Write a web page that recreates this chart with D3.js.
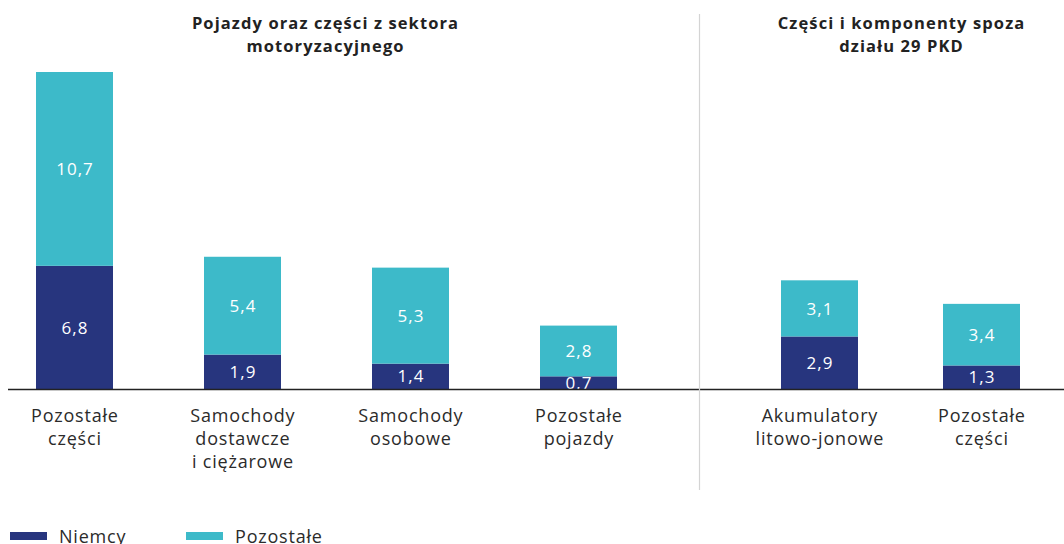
<!DOCTYPE html>
<html><head><meta charset="utf-8">
<script src="https://cdn.jsdelivr.net/npm/d3@7"></script>
<style>body{margin:0;background:#fff;overflow:hidden}svg{display:block}</style>
</head><body><svg id="c" width="1064" height="544"></svg>
<script>
const group1Cats = ["Pozostałe\nczęści", "Samochody\ndostawcze\ni ciężarowe", "Samochody\nosobowe", "Pozostałe\npojazdy"];
const group1Niemcy = [6.8, 1.9, 1.4, 0.7];
const group1Pozostale = [10.7, 5.4, 5.3, 2.8];
const group2Cats = ["Akumulatory\nlitowo-jonowe", "Pozostałe\nczęści "];
const group2Niemcy = [2.9, 1.3];
const group2Pozostale = [3.1, 3.4];
const groupTitles = ["Pojazdy oraz części z sektora\nmotoryzacyjnego", "Części i komponenty spoza\ndziału 29 PKD"];
const seriesNames = ["Niemcy", "Pozostałe"];
const colors = ["#27357e", "#3dbac9"];

const svg = d3.select("#c");
const font = "'Open Sans', sans-serif";
const y = d3.scaleLinear().domain([0, 17.5]).range([389, 72]);
const x1 = d3.scalePoint().domain(group1Cats).range([74.5, 578.5]);
const x2 = d3.scalePoint().domain(group2Cats).range([819.5, 981.5]);
const bw = 77;
const fmt = v => d3.format(".1f")(v).replace(".", ",");

function centered(sel, cx, ls) {
  // compensate trailing letter-spacing
  return sel.attr("x", cx + ls / 2);
}

function drawGroup(cats, nie, poz, x) {
  cats.forEach((c, i) => {
    const cx = x(c);
    const segs = [[0, nie[i], colors[0]], [nie[i], nie[i] + poz[i], colors[1]]];
    segs.forEach(([a, b, col], j) => {
      svg.append("rect").attr("x", cx - bw / 2).attr("width", bw)
        .attr("y", y(b)).attr("height", y(a) - y(b)).attr("fill", col);
      centered(svg.append("text"), cx, 1).attr("y", (y(a) + y(b)) / 2)
        .attr("dy", "0.36em").attr("text-anchor", "middle")
        .attr("fill", "#fff").attr("font-family", font).attr("font-size", 17)
        .attr("letter-spacing", 1)
        .text(fmt(j === 0 ? nie[i] : poz[i]));
    });
    const t = svg.append("text").attr("text-anchor", "middle").attr("fill", "#2b2b2b")
      .attr("font-family", font).attr("font-size", 18).attr("letter-spacing", 0.8);
    c.trim().split("\n").forEach((ln, k) => {
      centered(t.append("tspan"), cx, 0.8).attr("y", 422 + k * 23).text(ln);
    });
  });
}
drawGroup(group1Cats, group1Niemcy, group1Pozostale, x1);
drawGroup(group2Cats, group2Niemcy, group2Pozostale, x2);

// baseline
svg.append("line").attr("x1", 8).attr("x2", 1064).attr("y1", y(0) + 0.5).attr("y2", y(0) + 0.5)
  .attr("stroke", "#222").attr("stroke-width", 1.3);
// separator
svg.append("line").attr("x1", 699.5).attr("x2", 699.5).attr("y1", 14).attr("y2", 490)
  .attr("stroke", "#d4d4d4").attr("stroke-width", 1.2);

// titles
[[325, groupTitles[0]], [901, groupTitles[1]]].forEach(([cx, txt]) => {
  const t = svg.append("text").attr("text-anchor", "middle").attr("fill", "#222")
    .attr("font-family", font).attr("font-weight", 700).attr("font-size", 16.5)
    .attr("letter-spacing", 1.1);
  txt.split("\n").forEach((ln, k) => centered(t.append("tspan"), cx, 1.1).attr("y", 29 + k * 23).text(ln));
});

// legend
const legX = [10, 186];
seriesNames.forEach((n, i) => {
  svg.append("rect").attr("x", legX[i]).attr("y", 532).attr("width", 37).attr("height", 8).attr("fill", colors[i]);
  svg.append("text").attr("x", legX[i] + 49).attr("y", 543).attr("fill", "#2b2b2b")
    .attr("font-family", font).attr("font-size", 18).attr("letter-spacing", 0.8).text(n);
});
</script></body></html>
